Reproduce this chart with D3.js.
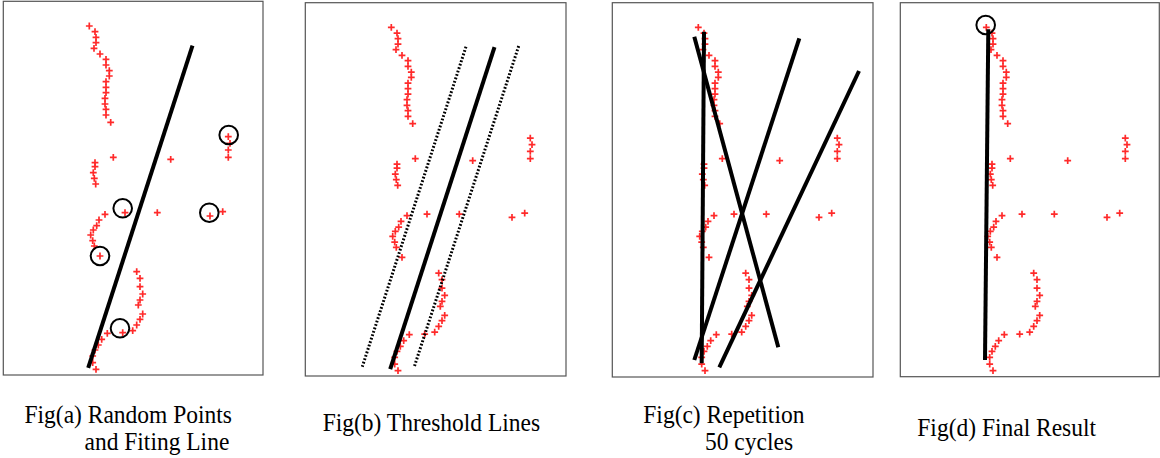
<!DOCTYPE html>
<html>
<head>
<meta charset="utf-8">
<script src="https://cdn.jsdelivr.net/npm/d3@7"></script>
<style>
  html, body { margin: 0; padding: 0; background: #fff; }
  svg { display: block; }
</style>
</head>
<body>
<div id="chart"></div>
<script>
"use strict";

// point cloud, in panel units (0..260 wide, 0..374 tall)
var pointsX = [86.0, 91.7, 92.7, 92.7, 90.7, 96.7, 102.7, 102.7, 106.0, 106.0, 102.7, 102.7, 102.7, 101.7, 101.7, 102.7, 102.7, 107.4,
  110.0, 167.4,
  91.7, 91.7, 90.0, 91.0, 92.4,
  225.0, 226.7, 225.0, 225.0,
  121.7, 154.0, 206.7, 219.4,
  101.7, 95.7, 93.4, 90.0, 87.4, 89.4, 91.0, 96.7,
  133.4, 136.7, 136.7, 139.4, 136.7, 135.0, 139.4, 136.7, 133.4, 129.4, 119.4, 104.0, 98.4, 95.0, 91.7, 89.4, 89.4, 92.7];
var pointsY = [24.7, 30.4, 36.0, 41.4, 47.0, 52.7, 58.0, 63.7, 69.4, 74.7, 80.4, 86.0, 91.4, 97.0, 102.7, 108.0, 113.7, 121.0,
  156.0, 158.0,
  161.4, 165.4, 171.4, 177.0, 182.7,
  135.4, 142.0, 148.7, 156.0,
  211.4, 211.4, 214.7, 210.4,
  213.0, 218.7, 224.4, 228.7, 233.7, 239.4, 244.7, 254.7,
  270.4, 277.0, 285.4, 292.7, 298.7, 303.7, 312.7, 318.0, 323.7, 329.4, 331.4, 332.0, 338.0, 343.7, 348.7, 354.7, 361.4, 368.0];

// random sample circles in Fig(a)
var sampleX = [225.4, 119.4, 206.0, 96.7, 116.7];
var sampleY = [133.7, 207.0, 211.4, 254.7, 327.0];

// lines: [x1, y1, x2, y2]
var fitLine = [[189.2, 44.4, 84.9, 366.5]];
var thresholdLines = [[160.7, 44.0, 57.0, 364.0], [213.4, 43.3, 109.0, 364.0]];
var cycleLines = [[91.7, 29.0, 89.4, 360.6], [82.0, 34.0, 166.0, 344.6], [187.0, 35.6, 82.0, 357.3], [246.7, 68.3, 107.0, 364.6]];
var finalLine = [[88.0, 26.6, 84.7, 357.3]];
var finalX = [85.4];
var finalY = [22.3];

var captions = [
  ["Fig(a) Random Points", "and Fiting Line"],
  ["Fig(b) Threshold Lines"],
  ["Fig(c) Repetition", "50 cycles"],
  ["Fig(d) Final Result"]
];

var W = 1160, H = 458;
var panels = [
  { left: 3.3, top: 1.3, right: 263, bottom: 375 },
  { left: 305.3, top: 2.7, right: 566, bottom: 376 },
  { left: 612.3, top: 2.7, right: 873, bottom: 377 },
  { left: 900.3, top: 2.7, right: 1159.3, bottom: 376.7 }
];
var captionPos = [
  [{ x: 24.5, y: 423 }, { x: 84.5, y: 449.5 }],
  [{ x: 322.7, y: 430.7 }],
  [{ x: 643.3, y: 423.3 }, { x: 705, y: 450 }],
  [{ x: 917.3, y: 435.7 }]
];

var svg = d3.select("#chart").append("svg")
  .attr("width", W)
  .attr("height", H);

var points = pointsX.map(function (x, i) { return { x: x, y: pointsY[i] }; });

function drawPanel(i, opts) {
  var p = panels[i];
  var x = d3.scaleLinear().domain([0, 260]).range([p.left, p.left + 260]);
  var y = d3.scaleLinear().domain([0, 374]).range([p.top, p.top + 374]);
  var g = svg.append("g").attr("class", "panel");

  g.append("rect")
    .attr("x", p.left).attr("y", p.top)
    .attr("width", p.right - p.left).attr("height", p.bottom - p.top)
    .attr("fill", "#fff")
    .attr("stroke", "#555")
    .attr("stroke-width", 1.2);

  // red plus markers
  var marks = g.append("g").attr("stroke", "#ff2a2a").attr("stroke-width", 1.7);
  marks.selectAll("path").data(points).join("path")
    .attr("d", function (d) {
      var cx = x(d.x), cy = y(d.y), r = 3.4;
      return "M" + (cx - r) + "," + cy + "H" + (cx + r) + "M" + cx + "," + (cy - r) + "V" + (cy + r);
    });

  (opts.dotted || []).forEach(function (l) {
    g.append("line")
      .attr("x1", x(l[0])).attr("y1", y(l[1])).attr("x2", x(l[2])).attr("y2", y(l[3]))
      .attr("stroke", "#000").attr("stroke-width", 3)
      .attr("stroke-dasharray", "1.8,1.8");
  });

  g.selectAll("line.solid").data(opts.lines || []).join("line")
    .attr("class", "solid")
    .attr("x1", function (l) { return x(l[0]); })
    .attr("y1", function (l) { return y(l[1]); })
    .attr("x2", function (l) { return x(l[2]); })
    .attr("y2", function (l) { return y(l[3]); })
    .attr("stroke", "#000")
    .attr("stroke-width", 4);

  var cx = opts.circlesX || [];
  g.selectAll("circle").data(cx).join("circle")
    .attr("cx", function (d) { return x(d); })
    .attr("cy", function (d, j) { return y(opts.circlesY[j]); })
    .attr("r", 9.3)
    .attr("fill", "none")
    .attr("stroke", "#000")
    .attr("stroke-width", 2);

  captions[i].forEach(function (t, k) {
    var pos = captionPos[i][k];
    svg.append("text")
      .attr("transform", "translate(" + pos.x + "," + pos.y + ") scale(1,1.1)")
      .attr("font-family", "'Liberation Serif', 'Times New Roman', serif")
      .attr("font-size", 23.5)
      .attr("fill", "#000")
      .text(t);
  });
}

drawPanel(0, { lines: fitLine, circlesX: sampleX, circlesY: sampleY });
drawPanel(1, { lines: fitLine, dotted: thresholdLines });
drawPanel(2, { lines: cycleLines });
drawPanel(3, { lines: finalLine, circlesX: finalX, circlesY: finalY });
</script>
</body>
</html>
